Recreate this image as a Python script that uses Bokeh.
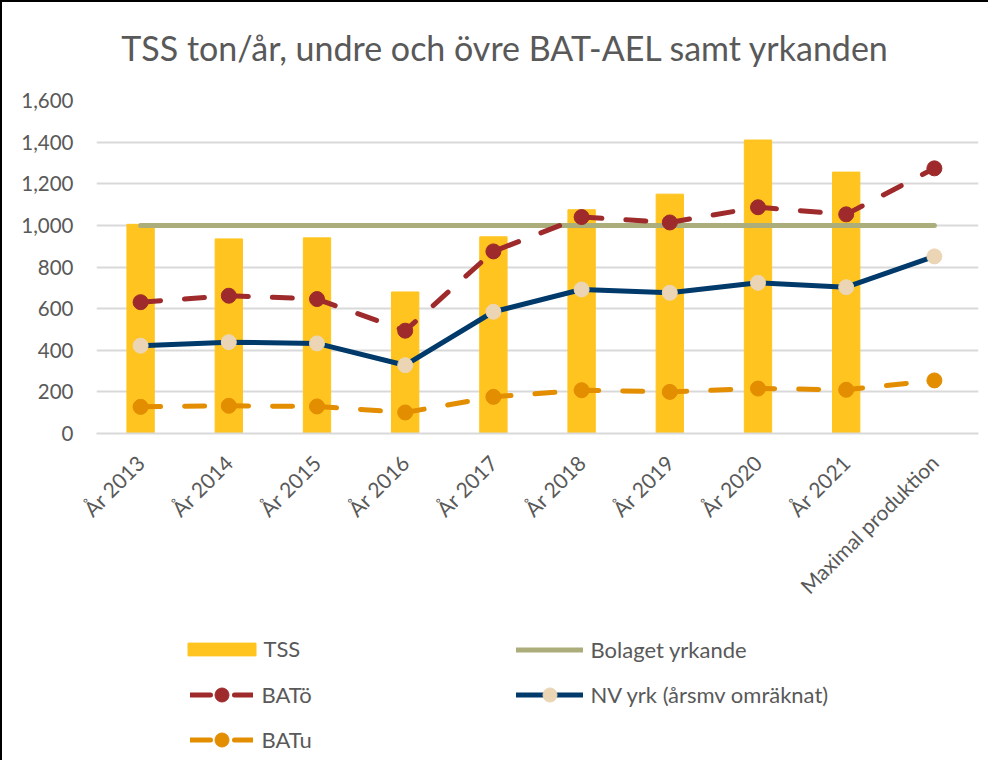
import math
from bokeh.plotting import figure
from bokeh.layouts import column
from bokeh.models import (ColumnDataSource, FactorRange, Range1d, NumeralTickFormatter,
                          FixedTicker, Legend, LegendItem, Label)
from bokeh.embed import file_html
from bokeh.resources import INLINE

categories = ["År 2013", "År 2014", "År 2015", "År 2016", "År 2017",
              "År 2018", "År 2019", "År 2020", "År 2021", "Maximal produktion"]
tss = [1005, 935, 940, 680, 945, 1075, 1150, 1410, 1256, None]
bolaget = [1000, 1000, 1000, 1000, 1000, 1000, 1000, 1000, 1000, 1000]
bat_o = [631, 662, 646, 494, 875, 1040, 1014, 1087, 1053, 1274]
nv_yrk = [422, 439, 433, 328, 585, 692, 676, 724, 703, 851]
bat_u = [128, 133, 130, 101, 176, 208, 200, 216, 210, 255]
y_ticks = [0, 200, 400, 600, 800, 1000, 1200, 1400, 1600]
title_text = "TSS ton/år, undre och övre BAT-AEL samt yrkanden"

TXT = "#595959"
FONT = "Lato"
W = 986
H_TITLE = 70
H_MAIN = 550
H_LEG = 138
BL, BR = 94, 10

src = ColumnDataSource(dict(cat=categories,
                            tss=[float("nan") if v is None else v for v in tss],
                            bolaget=bolaget, bat_o=bat_o, nv=nv_yrk, bat_u=bat_u))
xr = FactorRange(*categories, range_padding=0)


def blank_fig(h, xrange, yrange):
    f = figure(x_range=xrange, y_range=yrange, width=W, height=h,
               output_backend="svg", toolbar_location=None,
               x_axis_location=None, y_axis_location=None,
               min_border_left=BL, min_border_right=BR, min_border_top=0,
               min_border_bottom=0)
    f.outline_line_color = None
    f.grid.grid_line_color = None
    f.background_fill_color = "white"
    f.border_fill_color = "white"
    return f


# ---- title strip
pt = blank_fig(H_TITLE, Range1d(0, W - BL - BR), Range1d(0, H_TITLE))
pt.add_layout(Label(x=409, y=H_TITLE - 45, text=title_text, text_align="center",
                    text_baseline="middle", text_font=FONT,
                    text_font_size="34px", text_color=TXT))

# ---- main chart
p = figure(x_range=xr, y_range=Range1d(0, 1600),
           width=W, height=H_MAIN, output_backend="svg", toolbar_location=None,
           min_border_left=BL, min_border_right=BR, min_border_top=28,
           min_border_bottom=189)
p.outline_line_color = None
p.background_fill_color = "white"
p.border_fill_color = "white"


def add_series(fig):
    r_tss = fig.vbar(x="cat", top="tss", width=0.31, source=src, color="#FFC41F")
    r_bol = fig.line(x="cat", y="bolaget", source=src, line_color="#ABAD7B",
                     line_width=5, line_cap="round")
    r_bo_l = fig.line(x="cat", y="bat_o", source=src, line_color="#9E2A2B", line_width=5,
                      line_dash="20 24", line_cap="round")
    r_bo_s = fig.scatter(x="cat", y="bat_o", source=src, size=15, color="#9E2A2B")
    r_nv_l = fig.line(x="cat", y="nv", source=src, line_color="#003A6B", line_width=5,
                      line_cap="round", line_join="round")
    r_nv_s = fig.scatter(x="cat", y="nv", source=src, size=15, color="#EBD5B5")
    r_bu_l = fig.line(x="cat", y="bat_u", source=src, line_color="#E38D00", line_width=5,
                      line_dash="20 24", line_cap="round")
    r_bu_s = fig.scatter(x="cat", y="bat_u", source=src, size=15, color="#E38D00")
    return dict(tss=[r_tss], bol=[r_bol], bo=[r_bo_l, r_bo_s], nv=[r_nv_l, r_nv_s],
                bu=[r_bu_l, r_bu_s])


add_series(p)

p.xgrid.grid_line_color = None
p.ygrid.grid_line_color = "#D9D9D9"
p.ygrid.grid_line_width = 2
p.yaxis.ticker = FixedTicker(ticks=y_ticks)
p.yaxis.formatter = NumeralTickFormatter(format="0,0")
for ax in (p.xaxis, p.yaxis):
    ax.axis_line_color = None
    ax.major_tick_line_color = None
    ax.minor_tick_line_color = None
    ax.major_label_text_font = FONT
    ax.major_label_text_font_size = "21px"
    ax.major_label_text_color = TXT
p.yaxis.major_label_text_font_size = "20.5px"
p.xaxis.axis_line_color = "#D9D9D9"
p.xaxis.axis_line_width = 2
p.xaxis.major_label_orientation = math.pi / 4
p.xaxis.major_label_standoff = 19
p.yaxis.major_label_standoff = 17

# ---- legend strip (hidden copies of the series feed the legend glyphs)
pl = blank_fig(H_LEG, xr, Range1d(0, 1600))
rl = add_series(pl)
for group in rl.values():
    for r in group:
        r.visible = False


def make_legend(items, loc, gw, gh, standoff, spacing):
    lg = Legend(items=items, location=loc, orientation="vertical")
    lg.border_line_color = None
    lg.background_fill_alpha = 0
    lg.padding = 0
    lg.margin = 0
    lg.spacing = spacing
    lg.glyph_width = gw
    lg.glyph_height = gh
    lg.label_height = 22
    lg.label_standoff = standoff
    lg.label_text_font = FONT
    lg.label_text_font_size = "22px"
    lg.label_text_color = TXT
    lg.click_policy = "none"
    return lg


leg1 = make_legend([LegendItem(label="TSS", renderers=rl["tss"])],
                   (82.5, 98), 85, 16, 0, 10)
leg2 = make_legend([LegendItem(label="BATö", renderers=rl["bo"]),
                    LegendItem(label="BATu", renderers=rl["bu"])],
                   (93.5, 3), 63, 35, 9, 10)
leg3 = make_legend([LegendItem(label="Bolaget yrkande", renderers=rl["bol"]),
                    LegendItem(label="NV yrk (årsmv omräknat)", renderers=rl["nv"])],
                   (419.5, 48.5), 67, 35, 8, 10)
for lg in (leg1, leg2, leg3):
    pl.add_layout(lg, "center")

layout = column(pt, p, pl, spacing=0)
layout.styles = {"border-left": "2px solid #000000", "border-top": "2px solid #000000"}

open("out.html", "w").write(file_html(layout, INLINE))
